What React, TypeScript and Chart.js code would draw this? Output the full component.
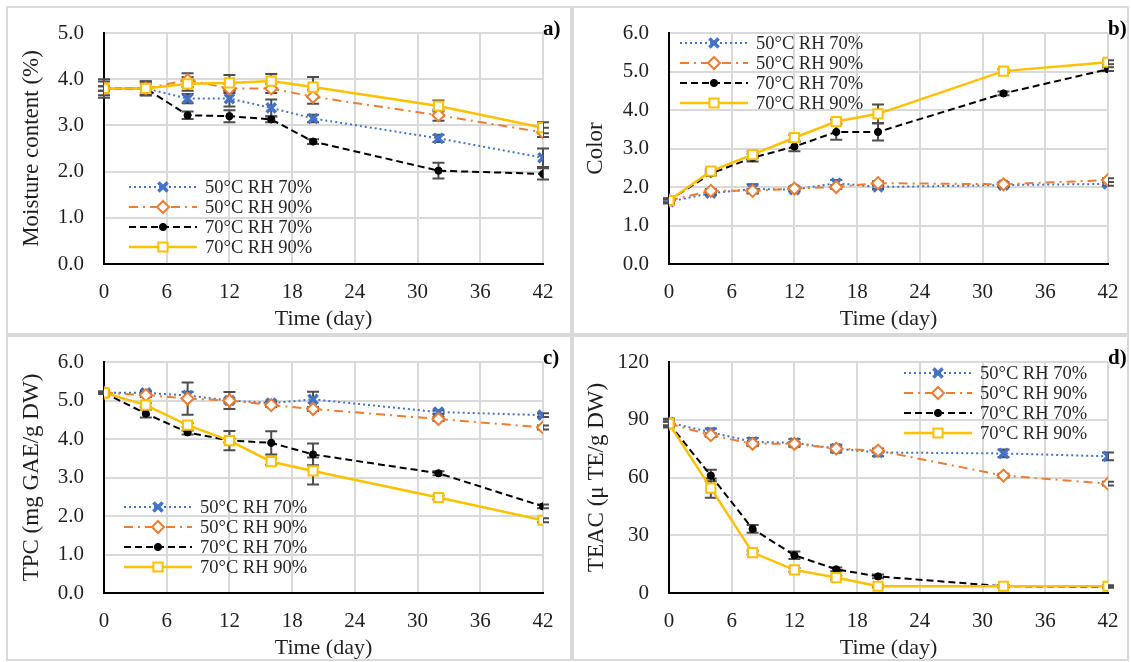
import React, { useEffect, useRef } from 'react';
import { Chart, registerables } from 'chart.js';

Chart.register(...registerables);

// ---------- DATA ----------
const days = [0, 4, 8, 12, 16, 20, 32, 42];
const seriesLabels = ['50°C RH 70%', '50°C RH 90%', '70°C RH 70%', '70°C RH 90%'];
const xTicksStep = 6;

// a) Moisture content (%)
const moist50rh70 = [3.8, 3.8, 3.58, 3.58, 3.38, 3.15, 2.72, 2.3];
const moist50rh90 = [3.8, 3.8, 3.98, 3.8, 3.8, 3.62, 3.22, 2.85];
const moist70rh70 = [3.8, 3.8, 3.22, 3.2, 3.13, 2.65, 2.02, 1.95];
const moist70rh90 = [3.8, 3.8, 3.9, 3.92, 3.96, 3.83, 3.42, 2.95];
const moistErr50rh70 = [0.15, 0.15, 0.1, 0.17, 0.18, 0.08, 0.08, 0.2];
const moistErr50rh90 = [0.05, 0.1, 0.15, 0.1, 0.1, 0.15, 0.12, 0.1];
const moistErr70rh70 = [0.2, 0.15, 0.08, 0.13, 0.06, 0.05, 0.17, 0.12];
const moistErr70rh90 = [0.05, 0.15, 0.15, 0.17, 0.15, 0.22, 0.12, 0.12];

// b) Color
const color50rh70 = [1.62, 1.84, 1.95, 1.93, 2.1, 2.0, 2.05, 2.08];
const color50rh90 = [1.65, 1.9, 1.9, 1.96, 2.0, 2.1, 2.07, 2.18];
const color70rh70 = [1.65, 2.35, 2.76, 3.05, 3.43, 3.43, 4.43, 5.06];
const color70rh90 = [1.65, 2.41, 2.84, 3.28, 3.7, 3.9, 5.01, 5.24];
const colorErr50rh70 = [0.05, 0.05, 0.12, 0.05, 0.08, 0.05, 0.05, 0.05];
const colorErr50rh90 = [0.05, 0.05, 0.05, 0.05, 0.05, 0.05, 0.05, 0.05];
const colorErr70rh70 = [0.05, 0.05, 0.1, 0.12, 0.2, 0.22, 0.05, 0.05];
const colorErr70rh90 = [0.05, 0.05, 0.08, 0.08, 0.05, 0.24, 0.05, 0.05];

// c) TPC (mg GAE/g DW)
const tpc50rh70 = [5.2, 5.2, 5.13, 5.0, 4.93, 5.03, 4.7, 4.62];
const tpc50rh90 = [5.2, 5.14, 5.05, 5.0, 4.88, 4.78, 4.52, 4.3];
const tpc70rh70 = [5.2, 4.66, 4.17, 3.96, 3.9, 3.6, 3.11, 2.25];
const tpc70rh90 = [5.2, 4.88, 4.36, 3.96, 3.41, 3.17, 2.48, 1.89];
const tpcErr50rh70 = [0.03, 0.05, 0.1, 0.22, 0.05, 0.2, 0.05, 0.05];
const tpcErr50rh90 = [0.03, 0.05, 0.42, 0.05, 0.05, 0.05, 0.05, 0.05];
const tpcErr70rh70 = [0.03, 0.1, 0.05, 0.25, 0.3, 0.28, 0.05, 0.05];
const tpcErr70rh90 = [0.03, 0.05, 0.05, 0.05, 0.08, 0.35, 0.05, 0.05];

// d) TEAC (μ TE/g DW)
const teac50rh70 = [88.5, 83.5, 78.5, 78, 75, 73, 72.5, 71];
const teac50rh90 = [88, 82, 77.5, 77.5, 75, 74, 61, 56.8];
const teac70rh70 = [88, 61, 33.3, 19.6, 12.3, 8.6, 3.5, 3.2];
const teac70rh90 = [88, 54.5, 21, 12, 8, 3.5, 3.5, 3.5];
const teacErr50rh70 = [2, 2, 2, 2, 2, 2, 2, 2];
const teacErr50rh90 = [1, 1, 1, 1, 1, 1, 1, 1];
const teacErr70rh70 = [2, 3, 2, 2, 1, 1, 0.5, 0.5];
const teacErr70rh90 = [1, 5, 1, 1, 1, 0.5, 0.5, 0.5];

// ---------- STYLES ----------
const FONT = '"Liberation Serif", "Times New Roman", serif';
const TEXT = '#1f1f1f';
const GRID = '#d9d9d9';

const seriesStyles = [
  { color: '#4472C4', width: 2, dash: [2, 3], point: 'crossRot', radius: 6.5, pw: 3.5, fill: '#4472C4' },
  { color: '#ED7D31', width: 2, dash: [9, 5, 2, 5], point: 'rectRot', radius: 6, pw: 2, fill: '#ffffff' },
  { color: '#000000', width: 2, dash: [7, 4], point: 'circle', radius: 3.6, pw: 1, fill: '#000000' },
  { color: '#FFC000', width: 2.5, dash: [] as number[], point: 'rect', radius: 6.5, pw: 2, fill: '#ffffff' },
];

function drawMarker(ctx: CanvasRenderingContext2D, style: string, x: number, y: number, r: number, fill: string, stroke: string, lw: number) {
  ctx.save();
  ctx.setLineDash([]);
  ctx.lineWidth = lw;
  ctx.strokeStyle = stroke;
  ctx.fillStyle = fill;
  ctx.beginPath();
  if (style === 'circle') {
    ctx.arc(x, y, r, 0, Math.PI * 2);
    ctx.fill();
    ctx.stroke();
  } else if (style === 'rect') {
    const s = r * Math.SQRT1_2;
    ctx.rect(x - s, y - s, 2 * s, 2 * s);
    ctx.fill();
    ctx.stroke();
  } else if (style === 'rectRot') {
    ctx.moveTo(x, y - r);
    ctx.lineTo(x + r, y);
    ctx.lineTo(x, y + r);
    ctx.lineTo(x - r, y);
    ctx.closePath();
    ctx.fill();
    ctx.stroke();
  } else if (style === 'crossRot') {
    const s = r * Math.SQRT1_2;
    ctx.moveTo(x - s, y - s);
    ctx.lineTo(x + s, y + s);
    ctx.moveTo(x - s, y + s);
    ctx.lineTo(x + s, y - s);
    ctx.stroke();
  }
  ctx.restore();
}

const decoPlugin = {
  id: 'panelDeco',
  beforeDatasetsDraw(chart: any) {
    const ctx = chart.ctx as CanvasRenderingContext2D;
    const xs = chart.scales.x;
    const ys = chart.scales.y;
    ctx.save();
    ctx.strokeStyle = '#4d4d4d';
    ctx.lineWidth = 2;
    ctx.setLineDash([]);
    chart.data.datasets.forEach((ds: any) => {
      const errs: number[] = ds.errors || [];
      ds.data.forEach((p: any, i: number) => {
        const e = errs[i];
        if (!e) return;
        const px = xs.getPixelForValue(p.x);
        const y1 = ys.getPixelForValue(p.y + e);
        const y2 = ys.getPixelForValue(p.y - e);
        ctx.beginPath();
        ctx.moveTo(px, y1);
        ctx.lineTo(px, y2);
        ctx.moveTo(px - 6, y1);
        ctx.lineTo(px + 6, y1);
        ctx.moveTo(px - 6, y2);
        ctx.lineTo(px + 6, y2);
        ctx.stroke();
      });
    });
    ctx.restore();
  },
  afterDraw(chart: any, _args: any, opts: any) {
    const ctx = chart.ctx as CanvasRenderingContext2D;
    const area = chart.chartArea;
    ctx.save();
    // panel label
    ctx.font = `bold 21px ${FONT}`;
    ctx.fillStyle = '#000';
    ctx.textAlign = 'left';
    ctx.textBaseline = 'middle';
    ctx.fillText(opts.label, area.right, area.top - 3);
    // legend
    const lx = area.left + opts.legendX;
    const ly = area.top + opts.legendY;
    ctx.font = `18.5px ${FONT}`;
    chart.data.datasets.forEach((ds: any, i: number) => {
      const y = ly + i * 20;
      ctx.save();
      ctx.strokeStyle = ds.borderColor;
      ctx.lineWidth = ds.borderWidth;
      ctx.setLineDash(ds.borderDash || []);
      ctx.beginPath();
      ctx.moveTo(lx, y);
      ctx.lineTo(lx + 68, y);
      ctx.stroke();
      ctx.restore();
      drawMarker(ctx, ds.pointStyle, lx + 34, y, ds.pointRadius, ds.pointBackgroundColor, ds.pointBorderColor, ds.pointBorderWidth);
      ctx.fillStyle = '#262626';
      ctx.textAlign = 'left';
      ctx.textBaseline = 'middle';
      ctx.fillText(ds.label, lx + 76, y + 1);
    });
    ctx.restore();
  },
};

type Panel = {
  label: string;
  left: number; top: number; width: number; height: number;
  yWidth: number; padRight: number; padTop: number; xHeight: number;
  titlePadBottom: number; yTitlePad: number;
  yMax: number; yStep: number; yDecimals: number; yTitle: string;
  series: number[][]; errors: number[][];
  legendX: number; legendY: number;
};

const panels: Panel[] = [
  {
    label: 'a)', left: 6, top: 6, width: 566, height: 329,
    yWidth: 98, padRight: 29, padTop: 27, xHeight: 71, titlePadBottom: 3, yTitlePad: 12,
    yMax: 5, yStep: 1, yDecimals: 1, yTitle: 'Moisture content (%)',
    series: [moist50rh70, moist50rh90, moist70rh70, moist70rh90],
    errors: [moistErr50rh70, moistErr50rh90, moistErr70rh70, moistErr70rh90],
    legendX: 25, legendY: 154,
  },
  {
    label: 'b)', left: 572, top: 6, width: 557, height: 329,
    yWidth: 97, padRight: 21, padTop: 27, xHeight: 71, titlePadBottom: 3, yTitlePad: 10,
    yMax: 6, yStep: 1, yDecimals: 1, yTitle: 'Color',
    series: [color50rh70, color50rh90, color70rh70, color70rh90],
    errors: [colorErr50rh70, colorErr50rh90, colorErr70rh70, colorErr70rh90],
    legendX: 11, legendY: 10,
  },
  {
    label: 'c)', left: 6, top: 335, width: 566, height: 326,
    yWidth: 98, padRight: 29, padTop: 27, xHeight: 68, titlePadBottom: 0, yTitlePad: 12,
    yMax: 6, yStep: 1, yDecimals: 1, yTitle: 'TPC (mg GAE/g DW)',
    series: [tpc50rh70, tpc50rh90, tpc70rh70, tpc70rh90],
    errors: [tpcErr50rh70, tpcErr50rh90, tpcErr70rh70, tpcErr70rh90],
    legendX: 20, legendY: 145,
  },
  {
    label: 'd)', left: 572, top: 335, width: 557, height: 326,
    yWidth: 97, padRight: 21, padTop: 27, xHeight: 68, titlePadBottom: 0, yTitlePad: 11,
    yMax: 120, yStep: 30, yDecimals: 0, yTitle: 'TEAC (μ TE/g DW)',
    series: [teac50rh70, teac50rh90, teac70rh70, teac70rh90],
    errors: [teacErr50rh70, teacErr50rh90, teacErr70rh70, teacErr70rh90],
    legendX: 235, legendY: 11,
  },
];

function PanelChart({ p }: { p: Panel }) {
  const ref = useRef<HTMLCanvasElement>(null);
  useEffect(() => {
    if (!ref.current) return;
    const datasets = p.series.map((vals, si) => {
      const st = seriesStyles[si];
      return {
        label: seriesLabels[si],
        data: days.map((d, i) => ({ x: d, y: vals[i] })),
        errors: p.errors[si],
        borderColor: st.color,
        borderWidth: st.width,
        borderDash: st.dash,
        backgroundColor: st.color,
        pointStyle: st.point,
        pointRadius: st.radius,
        pointBorderWidth: st.pw,
        pointBorderColor: st.color,
        pointBackgroundColor: st.fill,
        tension: 0,
        fill: false,
        order: 3 - si,
      };
    });
    const chart = new Chart(ref.current, {
      type: 'line',
      data: { datasets } as any,
      plugins: [decoPlugin],
      options: {
        animation: false,
        responsive: false,
        maintainAspectRatio: false,
        devicePixelRatio: 1,
        layout: { padding: { left: 0, top: p.padTop, right: p.padRight, bottom: 0 } },
        plugins: {
          legend: { display: false },
          tooltip: { enabled: false },
          panelDeco: { label: p.label, legendX: p.legendX, legendY: p.legendY },
        } as any,
        scales: {
          x: {
            type: 'linear',
            min: 0,
            max: 42,
            afterFit: (s: any) => {
              s.height = p.xHeight;
              s.paddingLeft = 0;
              s.paddingRight = 0;
            },
            ticks: { stepSize: xTicksStep, padding: 16, color: TEXT, font: { family: FONT, size: 21 } },
            grid: { color: GRID, lineWidth: 2, drawTicks: false },
            border: { display: true, color: '#000', width: 2 },
            title: {
              display: true, text: 'Time (day)', color: TEXT,
              font: { family: FONT, size: 22 }, padding: { top: 0, bottom: p.titlePadBottom },
            },
          },
          y: {
            type: 'linear',
            min: 0,
            max: p.yMax,
            afterFit: (s: any) => {
              s.width = p.yWidth;
              s.paddingTop = 0;
              s.paddingBottom = 0;
            },
            ticks: {
              stepSize: p.yStep, padding: 20, color: TEXT, font: { family: FONT, size: 21 },
              callback: (v: any) => Number(v).toFixed(p.yDecimals),
            },
            grid: { color: GRID, lineWidth: 2, drawTicks: false },
            border: { display: true, color: '#000', width: 2 },
            title: {
              display: true, text: p.yTitle, color: TEXT,
              font: { family: FONT, size: 23 }, padding: { top: p.yTitlePad, bottom: 0 },
            },
          },
        },
      } as any,
    });
    return () => chart.destroy();
  }, [p]);
  return (
    <>
      <canvas
        ref={ref}
        width={p.width}
        height={p.height}
        style={{ position: 'absolute', left: p.left, top: p.top, width: p.width, height: p.height }}
      />
      <div
        style={{
          position: 'absolute', left: p.left, top: p.top, width: p.width, height: p.height,
          border: `2px solid ${GRID}`, boxSizing: 'border-box', pointerEvents: 'none',
        }}
      />
    </>
  );
}

export default function App() {
  return (
    <div style={{ position: 'absolute', left: 0, top: 0, width: 1131, height: 662, background: '#fff', overflow: 'hidden' }}>
      {panels.map((p) => (
        <PanelChart key={p.label} p={p} />
      ))}
    </div>
  );
}
